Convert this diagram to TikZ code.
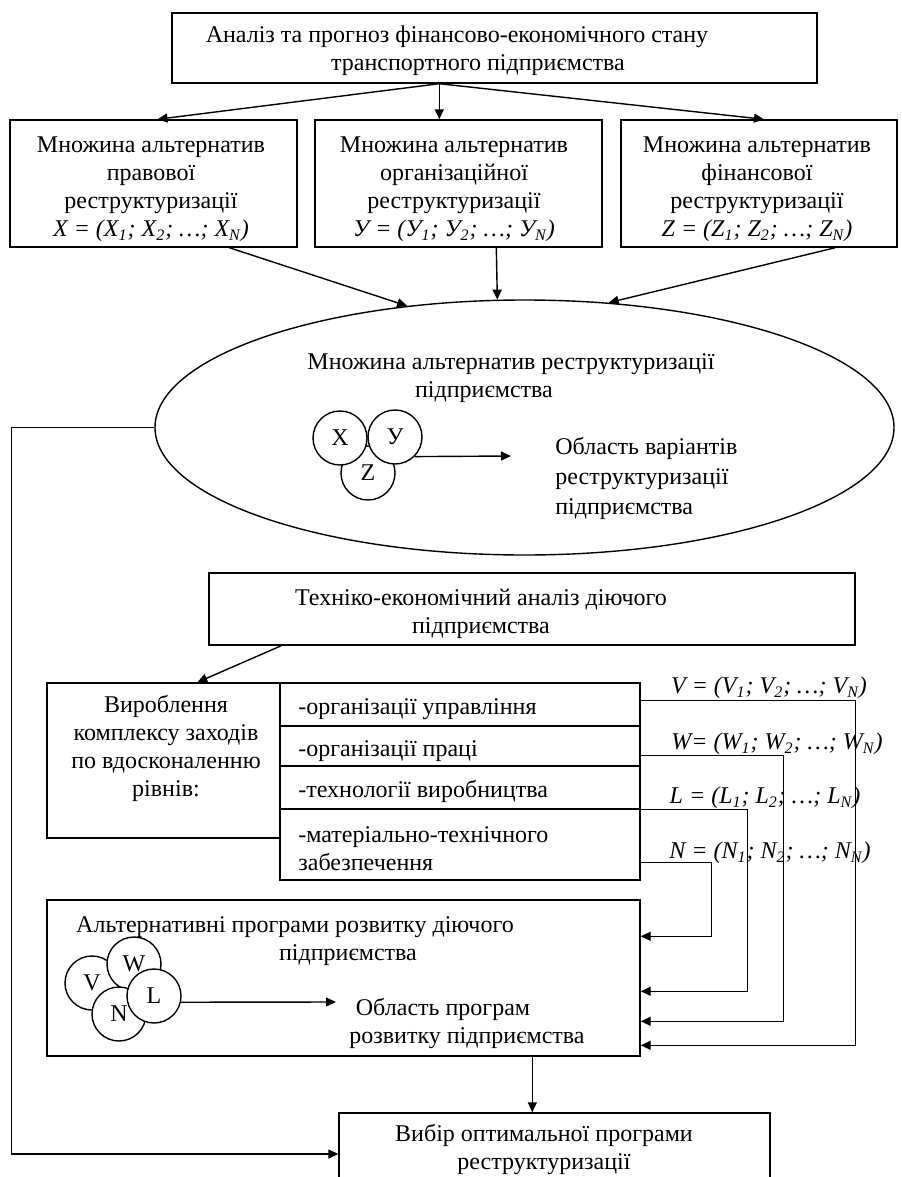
\documentclass[tikz,border=0pt]{standalone}
\usepackage{fontspec}
\setmainfont{Liberation Serif}
\usetikzlibrary{arrows.meta,calc,shapes.geometric}
\begin{document}
\begin{tikzpicture}[x=0.5pt,y=-0.5pt,
  every node/.style={font=\fontsize{12}{14}\selectfont},
  box/.style={draw,line width=0.7pt,inner sep=0pt,rectangle},
  circ/.style={draw,line width=0.7pt,circle,fill=white,minimum size=27pt,inner sep=0pt},
  txt/.style={align=center,inner sep=0pt},
  rowtxt/.style={align=left,anchor=west,inner sep=0pt},
  lab/.style={inner sep=0pt,font=\fontsize{12}{14}\selectfont\itshape},
  arr/.style={line width=0.7pt,-{Triangle[length=5pt,width=4.5pt]}}
]
\useasboundingbox (0,0) rectangle (901,1177);
\fill[white] (0,0) rectangle (901,1177);
\clip (0,0) rectangle (901,1177);

% top box
\node[box,minimum width=322.5pt,minimum height=35pt] (top) at (494.5,48) {};
\node[txt] (toptxt) at (457,51) {Аналіз та прогноз фінансово-економічного стану\\\hspace*{21pt}транспортного підприємства};

% three boxes
\node[box,minimum width=143.5pt,minimum height=63.5pt] (b1) at (153.5,183.5) {};
\node[box,minimum width=143.5pt,minimum height=63.5pt] (b2) at (458.5,183.5) {};
\node[box,minimum width=138pt,minimum height=63.5pt] (b3) at (759,183.5) {};
\node[txt] (b1txt) at (151,189.5) {Множина альтернатив\\правової\\реструктуризації\\\textit{X = (X\textsubscript{1}; X\textsubscript{2}; …; X\textsubscript{N})}};
\node[txt] (b2txt) at (454,189.5) {Множина альтернатив\\організаційної\\реструктуризації\\\textit{У = (У\textsubscript{1}; У\textsubscript{2}; …; У\textsubscript{N})}};
\node[txt] (b3txt) at (757,189.5) {Множина альтернатив\\фінансової\\реструктуризації\\\textit{Z = (Z\textsubscript{1}; Z\textsubscript{2}; …; Z\textsubscript{N})}};

\coordinate (ts) at ($(top.south west)+(268,0)$);
\draw[arr] (ts) -- ($(b1.north)+(4,0)$);
\draw[arr] (ts) -- (ts |- b2.north);
\draw[arr] (ts) -- ($(b3.north)+(5,0)$);

% ellipse
\node[draw,ellipse,line width=0.7pt,minimum width=369.5pt,minimum height=127.5pt,inner sep=0pt] (ell) at (524.5,427.5) {};
\node[txt] (elltxt) at (511,378) {Множина альтернатив реструктуризації\\підприємства\hspace*{27pt}};
\node[align=left,anchor=west,inner sep=0pt,font=\fontsize{12}{15}\selectfont] (obl1) at (555,478) {Область варіантів\\реструктуризації\\підприємства};
\node[circ] (cz) at (368,473) {Z};
\node[circ] (cx) at (340,438) {X};
\node[circ] (cy) at (395,437) {У};
\coordinate (ae1) at (511,456);
\draw[arr] (cy.-45) -- (ae1);

\draw[arr] ($(b1.south west)+(220,0)$) -- (ell.134);
\draw[arr] ($(b2.south west)+(182,0)$) -- (ell.102);
\draw[arr] ($(b3.south west)+(215,0)$) -- (ell.56);

% tech box
\node[box,minimum width=323pt,minimum height=36pt] (tech) at (532,609) {};
\node[txt] (techtxt) at (481,614) {Техніко-економічний аналіз діючого\\підприємства};

% vir box and rows
\node[box,minimum width=116.5pt,minimum height=77.5pt] (vir) at (163.5,760.5) {};
\node[txt] (virtxt) at (166,748) {Вироблення\\комплексу заходів\\по вдосконаленню\\рівнів:};
\node[box,minimum width=180pt,minimum height=21.5pt] (r1) at (460,704.5) {};
\node[box,minimum width=180pt,minimum height=20pt] (r2) at (460,746) {};
\node[box,minimum width=180pt,minimum height=21.5pt] (r3) at (460,787.5) {};
\node[box,minimum width=180pt,minimum height=35.5pt] (r4) at (460,844.5) {};
\node[rowtxt] (r1txt) at (298,709) {-організації управління};
\node[rowtxt] (r2txt) at (298,751) {-організації праці};
\node[rowtxt] (r3txt) at (298,791) {-технології виробництва};
\node[rowtxt] (r4txt) at (298,849) {-матеріально-технічного\\забезпечення};

\draw[arr] ($(tech.south west)+(73,0)$) -- ($(vir.north west)+(151,0)$);

% program box
\node[box,minimum width=296.5pt,minimum height=78pt] (prog) at (343.5,978) {};
\node[txt] (progtxt) at (295,941.5) {Альтернативні програми розвитку діючого\\\hspace*{53pt}підприємства};
\node[txt] (obl2) at (467,1023.5) {Область програм\hspace*{24pt}\\розвитку підприємства};
\node[circ] (cv) at (92,983) {V};
\node[circ] (cw) at (134,964) {W};
\node[circ] (cn) at (119,1014) {N};
\node[circ] (cl) at (154,996) {L};
\coordinate (ae2) at (336,1002);
\draw[arr] (cl.-13) -- (ae2);

% labels
\node[lab] (lv) at (769,688) {V = (V\textsubscript{1}; V\textsubscript{2}; …; V\textsubscript{N})};
\node[lab] (lw) at (777,744) {W= (W\textsubscript{1}; W\textsubscript{2}; …; W\textsubscript{N})};
\node[lab] (ll) at (765,798) {L = (L\textsubscript{1}; L\textsubscript{2}; …; L\textsubscript{N})};
\node[lab] (ln) at (770,853) {N = (N\textsubscript{1}; N\textsubscript{2}; …; N\textsubscript{N})};

% right connectors
\draw[arr] ($(r1.north east)+(0,18)$) -| ($(prog.north east)+(215,146)$) -- ($(prog.north east)+(0,146)$);
\draw[arr] ($(r2.north east)+(0,30)$) -| ($(prog.north east)+(143,122)$) -- ($(prog.north east)+(0,122)$);
\draw[arr] (r3.south east) -| ($(prog.north east)+(107,92)$) -- ($(prog.north east)+(0,92)$);
\draw[arr] ($(r4.north east)+(0,54)$) -| ($(prog.north east)+(71,37)$) -- ($(prog.north east)+(0,37)$);

% bottom box
\node[box,minimum width=215.5pt,minimum height=41pt] (bot) at (554.5,1154) {};
\node[txt] (bottxt) at (544,1149) {Вибір оптимальної програми\\реструктуризації};

\coordinate (pb) at ($(prog.south west)+(486,0)$);
\draw[arr] (pb) -- (pb |- bot.north);

% feedback
\draw[arr] (ell.west) -- ++(-143,0) |- (bot.west);
\end{tikzpicture}
\end{document}
